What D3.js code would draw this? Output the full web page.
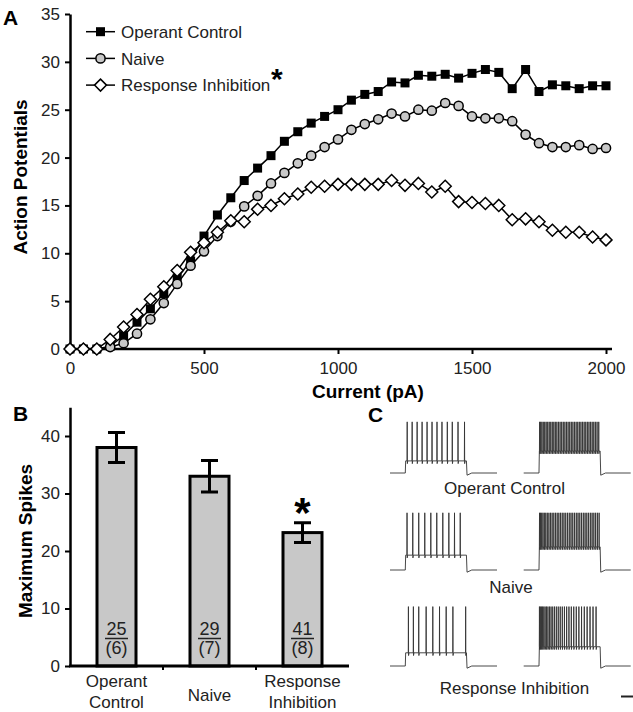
<!DOCTYPE html>
<html>
<head>
<meta charset="utf-8">
<script src="https://cdn.jsdelivr.net/npm/d3@7"></script>
<style>
  body { margin: 0; background: #fff; }
  svg { display: block; font-family: "Liberation Sans", Arial, sans-serif; }
</style>
</head>
<body>
<svg id="fig" width="633" height="712"></svg>
<script>
// ---- Panel A: action potentials vs injected current ----
const currents = [0, 50, 100, 150, 200, 250, 300, 350, 400, 450, 500, 550, 600, 650, 700, 750, 800, 850, 900, 950,
  1000, 1050, 1100, 1150, 1200, 1250, 1300, 1350, 1400, 1450, 1500, 1550, 1600, 1650, 1700, 1750, 1800, 1850, 1900, 1950, 2000];
const operantControl = [0, 0, 0, 0.3, 1.4, 2.8, 4.2, 5.8, 7.4, 9.2, 11.8, 14.0, 15.8, 17.6, 18.9, 20.2, 21.7, 22.7, 23.6, 24.3,
  25.0, 26.0, 26.6, 26.9, 27.9, 27.8, 28.6, 28.5, 28.7, 28.3, 28.8, 29.2, 28.9, 27.2, 29.2, 26.9, 27.6, 27.5, 27.2, 27.5, 27.5];
const naive = [0, 0, 0, 0.2, 0.6, 1.6, 3.1, 4.8, 6.8, 8.7, 10.2, 11.8, 13.3, 14.9, 16.0, 17.3, 18.4, 19.4, 20.2, 21.1,
  21.9, 22.9, 23.5, 24.0, 24.6, 24.3, 25.0, 24.9, 25.7, 25.4, 24.3, 24.1, 24.1, 23.8, 22.4, 21.5, 21.1, 21.1, 21.3, 20.9, 21.0];
const responseInhibition = [0, 0, 0, 1.0, 2.3, 3.6, 5.2, 6.5, 8.2, 10.1, 11.1, 12.2, 13.4, 13.3, 14.6, 15.0, 15.7, 16.2, 16.9, 17.0,
  17.2, 17.2, 17.2, 17.2, 17.6, 17.1, 17.3, 16.4, 17.0, 15.4, 15.3, 15.2, 15.0, 13.5, 13.6, 13.3, 12.4, 12.2, 12.2, 11.7, 11.4];
const seriesNames = ["Operant Control", "Naive", "Response Inhibition"];
const currentTicks = [0, 500, 1000, 1500, 2000];
const apTicks = [0, 5, 10, 15, 20, 25, 30, 35];

// ---- Panel B: maximum spikes ----
const groups = ["Operant Control", "Naive", "Response Inhibition"];
const groupLines = [["Operant", "Control"], ["Naive"], ["Response", "Inhibition"]];
const maxSpikes = [38.0, 33.0, 23.2];
const maxSpikesErr = [2.6, 2.75, 1.7];
const cellCounts = [25, 29, 41];
const animalCounts = [6, 7, 8];
const spikeTicks = [0, 10, 20, 30, 40];

// ---- Panel C: example traces (spike times in ms, step 200-1000 ms) ----
const traceLabels = ["Operant Control", "Naive", "Response Inhibition"];
const lowSpikes = [
  [225, 290, 355, 420, 485, 550, 615, 680, 750, 815, 890, 975],
  [223, 298, 376, 455, 534, 612, 691, 770, 844, 919],
  [241, 306, 376, 473, 560, 648, 735, 823, 990]
];
const highSpikes = [
  [208, 222, 238, 256, 275, 294, 314, 334, 354, 374, 394, 414, 434, 455, 476, 497, 518, 539, 560, 581,
   602, 623, 644, 665, 686, 707, 728, 749, 770, 791, 812, 833, 854, 875, 896, 917, 938, 960, 982],
  [207, 220, 235, 252, 270, 289, 309, 330, 351, 372, 394, 416, 438, 460, 482, 504, 527, 550, 573, 596,
   619, 642, 665, 688, 711, 734, 757, 780, 803, 826, 849, 872, 895, 918, 941, 964, 987],
  [206, 218, 232, 247, 263, 280, 298, 317, 337, 358, 380, 403, 427, 452, 478, 505, 533, 562, 592, 623,
   655, 688, 722, 757, 793, 830, 868, 907, 947]
];
const lowPlateau = [-48, -43, -46];   // mV
const highPlateau = [-30, -28, -35];
const spikePeak = [23, 34, 38];

const svg = d3.select("#fig");
const font = "Liberation Sans, Arial, sans-serif";

// ================= Panel A =================
const x = d3.scaleLinear([0, 2000], [70, 606]);
const y = d3.scaleLinear([0, 35], [349, 14]);

const gA = svg.append("g");

gA.append("g")
    .attr("transform", "translate(70,0)")
    .call(d3.axisLeft(y).tickValues(apTicks).tickSize(5).tickSizeOuter(0).tickPadding(5))
    .call(g => g.select(".domain").attr("stroke-width", 2.5))
    .call(g => g.selectAll(".tick line").attr("stroke-width", 2))
    .call(g => g.selectAll("text").attr("font-size", 17).attr("font-family", font).attr("fill", "#222"));

gA.append("g")
    .attr("transform", "translate(0,349)")
    .call(d3.axisBottom(x).tickValues(currentTicks).tickFormat(d3.format("d"))
        .tickSize(5).tickSizeOuter(0).tickPadding(8))
    .call(g => g.select(".domain").remove())
    .call(g => g.selectAll(".tick line").attr("stroke-width", 2))
    .call(g => g.selectAll("text").attr("font-size", 17).attr("font-family", font).attr("fill", "#222"));
gA.append("line")
    .attr("x1", 69).attr("x2", 612).attr("y1", 349).attr("y2", 349)
    .attr("stroke", "#000").attr("stroke-width", 2.5);

gA.append("text")
    .attr("x", 368).attr("y", 398)
    .attr("text-anchor", "middle")
    .attr("font-size", 19).attr("font-weight", "bold")
    .text("Current (pA)");

gA.append("text")
    .attr("transform", "translate(27,177) rotate(-90)")
    .attr("text-anchor", "middle")
    .attr("font-size", 19).attr("font-weight", "bold")
    .text("Action Potentials");

gA.append("text").attr("x", 3).attr("y", 25)
    .attr("font-size", 21).attr("font-weight", "bold").text("A");

const diamond = "M0,-6L6,0L0,6L-6,0Z";
function drawMarker(sel, kind) {
  if (kind === 0) {
    sel.append("rect").attr("x", -4.5).attr("y", -4.5).attr("width", 9).attr("height", 9)
        .attr("fill", "#000");
  } else if (kind === 1) {
    sel.append("circle").attr("r", 4.6)
        .attr("fill", "#c8c8c8").attr("stroke", "#000").attr("stroke-width", 1.5);
  } else {
    sel.append("path").attr("d", diamond)
        .attr("fill", "#fff").attr("stroke", "#000").attr("stroke-width", 1.5);
  }
}

const allSeries = [operantControl, naive, responseInhibition];
const line = d3.line().x((d, i) => x(currents[i])).y(d => y(d));

allSeries.forEach((vals, k) => {
  gA.append("path")
      .datum(vals)
      .attr("fill", "none")
      .attr("stroke", "#000")
      .attr("stroke-width", 1.5)
      .attr("d", line);
});
allSeries.forEach((vals, k) => {
  gA.append("g")
    .selectAll("g")
    .data(vals)
    .join("g")
      .attr("transform", (d, i) => `translate(${x(currents[i])},${y(d)})`)
      .each(function () { drawMarker(d3.select(this), k); });
});

// legend
const legend = gA.append("g")
  .selectAll("g")
  .data(seriesNames)
  .join("g")
    .attr("transform", (d, i) => `translate(86,${31.7 + i * 26.7})`);
legend.append("line").attr("x1", 0).attr("x2", 29)
    .attr("stroke", "#000").attr("stroke-width", 1.5);
legend.append("g").attr("transform", "translate(14.5,0)")
    .each(function (d, i) { drawMarker(d3.select(this), i); });
legend.append("text").attr("x", 35).attr("dy", "0.36em")
    .attr("font-size", 17).attr("fill", "#222").text(d => d);
gA.append("text").attr("x", 271).attr("y", 89)
    .attr("font-size", 30).attr("font-weight", "bold").text("*");

// ================= Panel B =================
const yB = d3.scaleLinear([0, 45], [666, 407.25]);
const xB = d3.scaleBand(groups, [70, 349]);
const gB = svg.append("g");
const barW = 39;

gB.append("g")
    .attr("transform", "translate(70,0)")
    .call(d3.axisLeft(yB).tickValues(spikeTicks).tickSize(5).tickSizeOuter(0).tickPadding(5))
    .call(g => g.select(".domain").attr("stroke-width", 2.5))
    .call(g => g.selectAll(".tick line").attr("stroke-width", 2))
    .call(g => g.selectAll("text").attr("font-size", 17).attr("font-family", font).attr("fill", "#222"));

const bars = gB.append("g")
  .selectAll("g")
  .data(groups)
  .join("g")
    .attr("transform", d => `translate(${xB(d) + xB.bandwidth() / 2},0)`);

bars.append("rect")
    .attr("x", -barW / 2)
    .attr("y", (d, i) => yB(maxSpikes[i]))
    .attr("width", barW)
    .attr("height", (d, i) => yB(0) - yB(maxSpikes[i]))
    .attr("fill", "#c8c8c8").attr("stroke", "#000").attr("stroke-width", 3);

bars.append("path")
    .attr("d", (d, i) => {
      const hi = yB(maxSpikes[i] + maxSpikesErr[i]), lo = yB(maxSpikes[i] - maxSpikesErr[i]);
      return `M-8.5,${hi}H8.5M0,${hi}V${lo}M-8.5,${lo}H8.5`;
    })
    .attr("fill", "none").attr("stroke", "#000").attr("stroke-width", 3);

bars.append("text").attr("y", 635).attr("text-anchor", "middle")
    .attr("font-size", 18).attr("fill", "#222").text((d, i) => cellCounts[i]);
bars.append("line").attr("x1", -11.5).attr("x2", 11.5).attr("y1", 638.5).attr("y2", 638.5)
    .attr("stroke", "#222").attr("stroke-width", 1.5);
bars.append("text").attr("y", 654).attr("text-anchor", "middle")
    .attr("font-size", 18).attr("fill", "#222").text((d, i) => `(${animalCounts[i]})`);

bars.append("text")
    .attr("text-anchor", "middle")
    .attr("font-size", 17).attr("fill", "#222")
    .selectAll("tspan")
    .data((d, i) => groupLines[i].map((t, j, arr) => ({ t, j, n: arr.length })))
    .join("tspan")
      .attr("x", 0)
      .attr("y", d => d.n === 1 ? 701 : 687 + d.j * 21)
      .text(d => d.t);

gB.append("text").attr("x", xB("Response Inhibition") + xB.bandwidth() / 2).attr("y", 527)
    .attr("text-anchor", "middle").attr("font-size", 42).attr("font-weight", "bold").text("*");

// x axis of B with separators
gB.append("line").attr("x1", 69).attr("x2", 349).attr("y1", 666).attr("y2", 666)
    .attr("stroke", "#000").attr("stroke-width", 3);
gB.append("g")
  .selectAll("line")
  .data(groups.slice(1))
  .join("line")
    .attr("x1", d => xB(d)).attr("x2", d => xB(d))
    .attr("y1", 666).attr("y2", 670)
    .attr("stroke", "#000").attr("stroke-width", 2);

gB.append("text")
    .attr("transform", "translate(32,541) rotate(-90)")
    .attr("text-anchor", "middle")
    .attr("font-size", 19).attr("font-weight", "bold")
    .text("Maximum Spikes");

gB.append("text").attr("x", 13).attr("y", 421)
    .attr("font-size", 21).attr("font-weight", "bold").text("B");

// ================= Panel C =================
const gC = svg.append("g");
gC.append("text").attr("x", 368).attr("y", 422)
    .attr("font-size", 21).attr("font-weight", "bold").text("C");

const rowBase = [473, 570, 666];
const traceX0 = [390, 523.7];
const labelPos = [[504.5, 494], [511, 593], [514.5, 694]];
const vScale = 0.55; // px per mV
const restV = -70;

function tracePoints(spikes, plateau, peak) {
  const pts = [[0, restV], [200, restV], [205, plateau]];
  spikes.forEach(t => {
    pts.push([t - 2, plateau], [t, peak], [t + 2, plateau - 5], [t + 7, plateau]);
  });
  pts.push([1000, plateau], [1008, restV - 4], [1070, restV], [1400, restV]);
  return pts;
}

traceLabels.forEach((lab, r) => {
  const yT = d3.scaleLinear([restV, restV + 100], [rowBase[r], rowBase[r] - 100 * vScale]);
  [[lowSpikes[r], lowPlateau[r]], [highSpikes[r], highPlateau[r]]].forEach(([sp, plat], c) => {
    const xT = d3.scaleLinear([0, 1400], [traceX0[c], traceX0[c] + 107]);
    gC.append("path")
        .datum(tracePoints(sp, plat, spikePeak[r]))
        .attr("fill", "none")
        .attr("stroke", "#333")
        .attr("stroke-width", 0.9)
        .attr("d", d3.line().x(d => xT(d[0])).y(d => yT(d[1])));
  });
  gC.append("text").attr("x", labelPos[r][0]).attr("y", labelPos[r][1])
      .attr("text-anchor", "middle").attr("font-size", 17).attr("fill", "#222").text(lab);
});

// scale bar
gC.append("line").attr("x1", 621).attr("x2", 633).attr("y1", 696.5).attr("y2", 696.5)
    .attr("stroke", "#222").attr("stroke-width", 2);
</script>
</body>
</html>
